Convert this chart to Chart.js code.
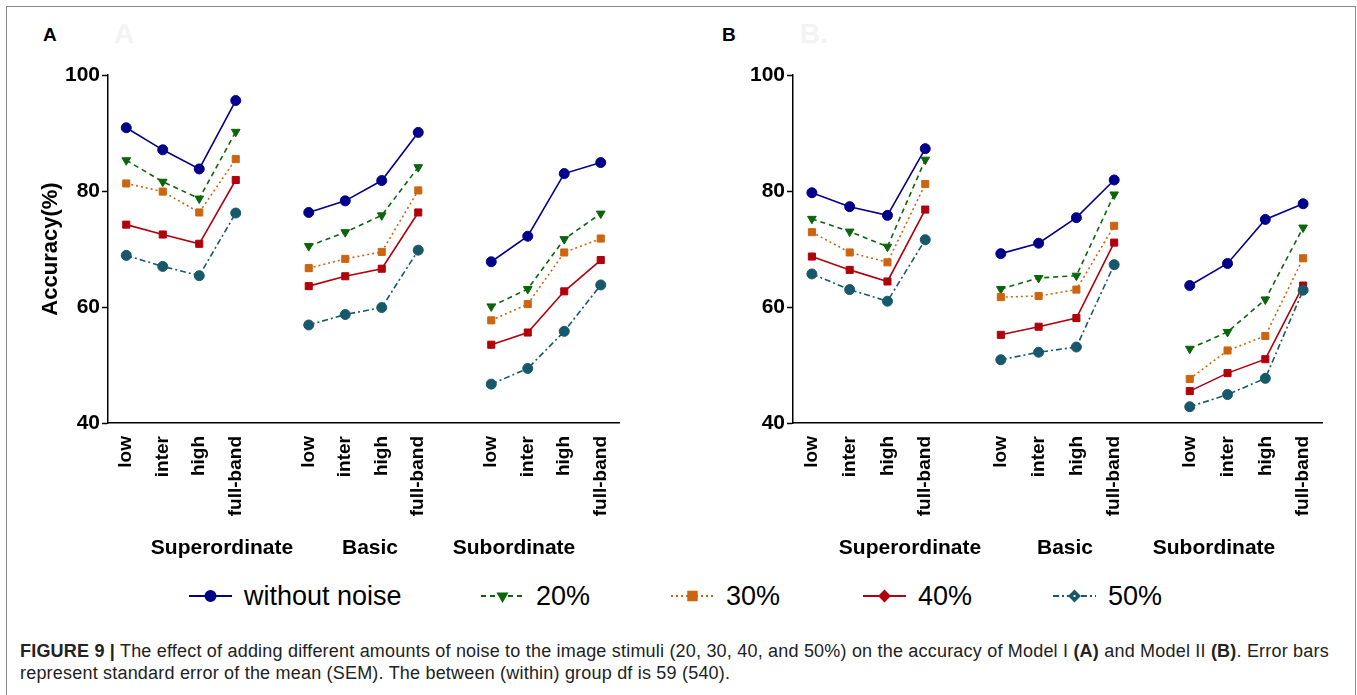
<!DOCTYPE html>
<html>
<head>
<meta charset="utf-8">
<script src="https://cdn.jsdelivr.net/npm/chart.js@4/dist/chart.umd.min.js"></script>
<style>
	body { margin: 0; background: #fff; font-family: 'Liberation Sans', Arial, sans-serif; }
	#page { position: relative; width: 1357px; height: 695px; overflow: hidden; }
	#frame { position: absolute; left: 6px; top: 6px; width: 1348px; height: 720px; border: 1.5px solid #8a8a8a; }
	.panel { position: absolute; top: 0; height: 560px; }
	.letter { position: absolute; top: 24px; font-weight: bold; font-size: 19px; }
	.ghost { position: absolute; top: 18px; font-weight: bold; font-size: 28px; color: #f3f3f3; }
	.group { position: absolute; top: 535px; font-weight: bold; font-size: 21px; transform: translateX(-50%); white-space: nowrap; }
	.legend-item { position: absolute; top: 580px; height: 32px; display: flex; align-items: center; font-size: 27px; }
	.legend-item canvas { margin-right: 11px; }
	#caption { position: absolute; left: 20px; top: 640px; font-size: 18px; letter-spacing: 0.2px; line-height: 22px; color: #222; white-space: nowrap; }
</style>
</head>
<body>
<div id="page">
	<div id="frame"></div>
	<div class="letter" style="left:43px">A</div>
	<div class="ghost" style="left:114px">A</div>
	<div class="letter" style="left:722px">B</div>
	<div class="ghost" style="left:800px">B.</div>
	<div class="panel" style="left:0;width:680px"><canvas id="chartA"></canvas></div>
	<div class="panel" style="left:680px;width:677px"><canvas id="chartB"></canvas></div>
	<div class="group" style="left:222px">Superordinate</div>
	<div class="group" style="left:370px">Basic</div>
	<div class="group" style="left:514px">Subordinate</div>
	<div class="group" style="left:910px">Superordinate</div>
	<div class="group" style="left:1065px">Basic</div>
	<div class="group" style="left:1214px">Subordinate</div>
	<div id="legend"></div>
	<div id="caption"><b>FIGURE 9 |</b> The effect of adding different amounts of noise to the image stimuli (20, 30, 40, and 50%) on the accuracy of Model I <b>(A)</b> and Model II <b>(B)</b>. Error bars<br>represent standard error of the mean (SEM). The between (within) group df is 59 (540).</div>
</div>
<script>
'use strict';

// tick labels, '' marks the gap between groups
const categories = ['low', 'inter', 'high', 'full-band', '',
	'low', 'inter', 'high', 'full-band', '',
	'low', 'inter', 'high', 'full-band'];

const seriesNames = ['without noise', '20%', '30%', '40%', '50%'];

// Model I (A)
const noNoiseA = [90.9, 87.1, 83.8, 95.6, null, 76.3, 78.3, 81.8, 90.1, null, 67.8, 72.2, 83.0, 84.9];
const noise20A = [85.3, 81.6, 78.7, 90.2, null, 70.5, 72.9, 75.8, 84.1, null, 60.1, 63.1, 71.7, 76.1];
const noise30A = [81.3, 79.9, 76.3, 85.5, null, 66.7, 68.3, 69.5, 80.1, null, 57.7, 60.5, 69.4, 71.8];
const noise40A = [74.2, 72.5, 70.9, 81.9, null, 63.6, 65.3, 66.6, 76.3, null, 53.5, 55.6, 62.7, 68.1];
const noise50A = [68.9, 67.0, 65.4, 76.2, null, 56.9, 58.7, 59.9, 69.8, null, 46.7, 49.4, 55.8, 63.8];

// Model II (B)
const noNoiseB = [79.7, 77.3, 75.8, 87.3, null, 69.2, 71.0, 75.4, 81.9, null, 63.7, 67.5, 75.1, 77.8];
const noise20B = [75.2, 73.0, 70.4, 85.4, null, 63.1, 65.0, 65.4, 79.4, null, 52.8, 55.7, 61.3, 73.7];
const noise30B = [72.9, 69.4, 67.7, 81.2, null, 61.7, 61.9, 63.0, 74.0, null, 47.6, 52.5, 55.0, 68.4];
const noise40B = [68.7, 66.4, 64.4, 76.8, null, 55.2, 56.6, 58.1, 71.1, null, 45.5, 48.6, 51.0, 63.7];
const noise50B = [65.7, 63.0, 61.0, 71.6, null, 50.9, 52.2, 53.1, 67.3, null, 42.8, 44.9, 47.7, 62.9];

const yTicks = [40, 60, 80, 100];

const styles = [
	{ color: '#00008b', dash: [], point: 'circle', rotation: 0, legendPoint: 'circle' },
	{ color: '#0b650b', dash: [5, 4], point: 'triangle', rotation: 180, legendPoint: 'triangle' },
	{ color: '#cc6510', dash: [2, 3], point: 'rect', rotation: 0, legendPoint: 'rect' },
	{ color: '#b0000c', dash: [], point: 'rect', rotation: 0, legendPoint: 'rectRot' },
	{ color: '#17596b', dash: [6, 3, 2, 3], point: 'circle', rotation: 0, legendPoint: 'rectRot' }
];

function makeDatasets(seriesList) {
	return seriesList.map(function (values, i) {
		const s = styles[i];
		return {
			label: seriesNames[i],
			data: values,
			borderColor: s.color,
			backgroundColor: s.color,
			borderWidth: 1.6,
			borderDash: s.dash,
			pointStyle: s.point,
			rotation: s.rotation,
			pointRadius: 5,
			pointBorderWidth: 1,
			spanGaps: false,
			tension: 0
		};
	});
}

function createChart(canvasId, seriesList, axisWidth, rightPad) {
	const tickFont = { family: "'Liberation Sans', Arial, sans-serif", weight: 'bold', size: 19 };
	return new Chart(document.getElementById(canvasId), {
		type: 'line',
		data: {
			labels: categories,
			datasets: makeDatasets(seriesList).reverse()
		},
		options: {
			responsive: true,
			maintainAspectRatio: false,
			animation: false,
			layout: { padding: { left: 0, right: rightPad, top: 75, bottom: 0 } },
			plugins: {
				legend: { display: false },
				tooltip: { enabled: false }
			},
			scales: {
				x: {
					type: 'category',
					offset: true,
					grid: { display: false, drawTicks: false },
					border: { display: true, color: '#000', width: 1.5 },
					ticks: {
						color: '#000',
						font: tickFont,
						minRotation: 90,
						maxRotation: 90,
						autoSkip: false,
						padding: 13
					},
					afterFit: function (scale) { scale.height = 137; }
				},
				y: {
					min: 40,
					max: 100,
					afterBuildTicks: function (scale) {
						scale.ticks = yTicks.map(function (v) { return { value: v }; });
					},
					grid: { drawOnChartArea: false, color: '#000', tickLength: 6, tickWidth: 1.5 },
					border: { display: true, color: '#000', width: 1.5 },
					ticks: {
						color: '#000',
						font: { family: "'Liberation Sans Narrow', 'Liberation Sans', Arial, sans-serif", weight: 'bold', size: 21 },
						padding: 2
					},
					title: {
						display: canvasId === 'chartA',
						text: 'Accuracy(%)',
						color: '#000',
						font: { family: "'Liberation Sans', Arial, sans-serif", weight: 'bold', size: 22 },
						padding: { top: 38, bottom: 0 }
					},
					afterFit: function (scale) { scale.width = axisWidth; }
				}
			}
		}
	});
}

function drawLegendIcon(canvas, s) {
	const ctx = canvas.getContext('2d');
	ctx.strokeStyle = s.color;
	ctx.lineWidth = 2;
	ctx.setLineDash(s.dash.length ? s.dash.map(function (d) { return Math.max(d, 2); }) : []);
	ctx.beginPath();
	ctx.moveTo(1, 16);
	ctx.lineTo(44, 16);
	ctx.stroke();
	ctx.setLineDash([]);
	Chart.helpers.drawPoint(ctx, {
		pointStyle: s.legendPoint,
		radius: s.legendPoint === 'rect' ? 6 : 5,
		rotation: s.rotation,
		borderWidth: 1
	}, 22.5, 16);
	ctx.fillStyle = s.color;
	ctx.fill();
	if (s.legendPoint === 'rectRot' && s.color === '#17596b') {
		ctx.fillStyle = '#fff';
		ctx.fillRect(21.5, 15, 2, 2);
	}
}

function buildLegend() {
	const iconLeft = [188, 480, 670, 862, 1052];
	const legend = document.getElementById('legend');
	seriesNames.forEach(function (name, i) {
		const item = document.createElement('div');
		item.className = 'legend-item';
		item.style.left = iconLeft[i] + 'px';
		const c = document.createElement('canvas');
		c.width = 45;
		c.height = 32;
		const label = document.createElement('span');
		label.textContent = name;
		item.appendChild(c);
		item.appendChild(label);
		legend.appendChild(item);
		drawLegendIcon(c, styles[i]);
	});
}

createChart('chartA', [noNoiseA, noise20A, noise30A, noise40A, noise50A], 108, 61);
createChart('chartB', [noNoiseB, noise20B, noise30B, noise40B, noise50B], 113, 35);
buildLegend();
</script>
</body>
</html>
